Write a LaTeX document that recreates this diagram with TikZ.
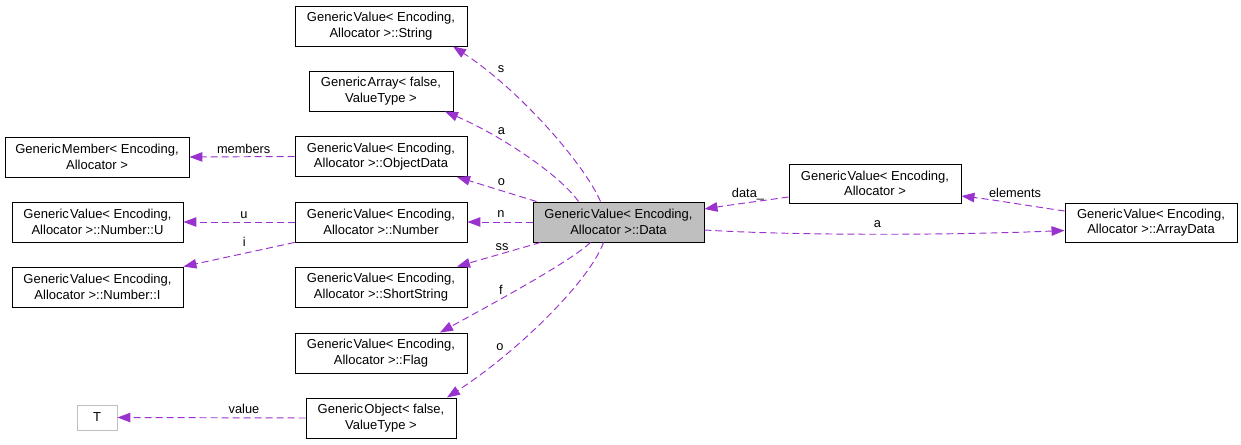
\documentclass[tikz,border=0pt]{standalone}
\usepackage{fontspec}
\setmainfont{Liberation Sans}
\usetikzlibrary{arrows.meta}
\definecolor{edgecol}{HTML}{9A32CD}
\definecolor{datafill}{HTML}{BFBFBF}
\newcommand{\gk}{\kern1.2pt}
\tikzset{
  box/.style={draw=black, line width=0.9pt, inner sep=0pt, align=center,
    font=\fontsize{13}{15.4}\selectfont, minimum height=40pt},
  extbox/.style={draw=datafill, line width=0.9pt, inner sep=0pt, align=center,
    font=\fontsize{13}{15.4}\selectfont},
  rel/.style={draw=edgecol, line width=0.95pt, dash pattern=on 7pt off 4pt,
    -{Triangle[length=13pt,width=9.5pt,fill=edgecol]}},
  lbl/.style={inner sep=0pt, anchor=base, font=\fontsize{12.8}{15}\selectfont}
}
\begin{document}
\begin{tikzpicture}[x=1pt,y=-1pt]
\useasboundingbox (0,0) rectangle (1241,444);
% nodes
\node[box, minimum width=172pt] (str) at (381,26) {Generic\gk Value< Encoding,\\ Allocator >::String};
\node[box, minimum width=144pt] (arr) at (381,91) {Generic\gk Array< false,\\ ValueType >};
\node[box, minimum width=172pt] (objd) at (381,156.5) {Generic\gk Value< Encoding,\\ Allocator >::ObjectData};
\node[box, minimum width=172pt] (num) at (381,222) {Generic\gk Value< Encoding,\\ Allocator >::Number};
\node[box, minimum width=172pt] (sstr) at (381,287) {Generic\gk Value< Encoding,\\ Allocator >::ShortString};
\node[box, minimum width=172pt] (flag) at (381,353) {Generic\gk Value< Encoding,\\ Allocator >::Flag};
\node[box, minimum width=150pt] (gobj) at (381,418) {Generic\gk Object< false,\\ ValueType >};
\node[box, minimum width=184pt] (gmem) at (97,157) {Generic\gk Member< Encoding,\\ Allocator >};
\node[box, minimum width=171pt] (numu) at (97.5,222) {Generic\gk Value< Encoding,\\ Allocator >::Number::U};
\node[box, minimum width=171pt] (numi) at (97.5,287) {Generic\gk Value< Encoding,\\ Allocator >::Number::I};
\node[extbox, minimum width=40pt, minimum height=25pt] (t) at (97,417.5) {T};
\node[box, fill=datafill, minimum width=171pt] (data) at (618.5,222) {Generic\gk Value< Encoding,\\ Allocator >::Data};
\node[box, minimum width=172pt, minimum height=39pt] (gv) at (875,183.5) {Generic\gk Value< Encoding,\\ Allocator >};
\node[box, minimum width=172pt, minimum height=39pt] (arrd) at (1151,222.5) {Generic\gk Value< Encoding,\\ Allocator >::ArrayData};
% edges
\draw[rel] ([xshift=-18pt]data.north) .. controls (585,165) and (520,90) .. ([xshift=72pt]str.south);
\draw[rel] ([xshift=-40pt]data.north) .. controls (560,175) and (500,135) .. ([xshift=64pt]arr.south);
\draw[rel] ([xshift=4pt]data.north west) -- ([xshift=76pt]objd.south);
\draw[rel] (data.west) -- (num.east);
\draw[rel] ([xshift=8pt]data.south west) -- ([xshift=76pt]sstr.north);
\draw[rel] ([xshift=-28pt]data.south) .. controls (570,262) and (490,305) .. ([xshift=59pt]flag.north);
\draw[rel] ([xshift=-15pt]data.south) .. controls (590,280) and (520,350) .. ([xshift=66pt]gobj.north);
\draw[rel] ([yshift=-13.5pt]gv.west) .. controls (760,201) and (730,205) .. ([yshift=13pt]data.east);
\draw[rel] ([yshift=-8pt]data.east) .. controls (800,236) and (960,235) .. ([yshift=-8pt]arrd.west);
\draw[rel] ([yshift=11.5pt]arrd.west) .. controls (1030,206) and (995,200) .. ([yshift=-12.5pt]gv.east);
\draw[rel] (objd.west) -- (gmem.east);
\draw[rel] (num.west) -- (numu.east);
\draw[rel] (num.south west) -- (numi.north east);
\draw[rel] (gobj.west) -- (t.east);
% labels
\node[lbl] (ls) at (501,73) {s};
\node[lbl] (la) at (501.5,134) {a};
\node[lbl] (lo) at (501.5,185) {o};
\node[lbl] (ln) at (501,217.5) {n};
\node[lbl] (lss) at (502,250) {ss};
\node[lbl] (lf) at (501,294) {f};
\node[lbl] (lo2) at (500,350) {o};
\node[lbl] (ldata) at (748,197.5) {data\_};
\node[lbl] (la2) at (877.5,227) {a};
\node[lbl] (lel) at (1015,197) {elements};
\node[lbl] (lmem) at (243.7,153) {members};
\node[lbl] (lu) at (244,218) {u};
\node[lbl] (li) at (244.3,246) {i};
\node[lbl] (lval) at (244,413) {value};
\end{tikzpicture}
\end{document}
